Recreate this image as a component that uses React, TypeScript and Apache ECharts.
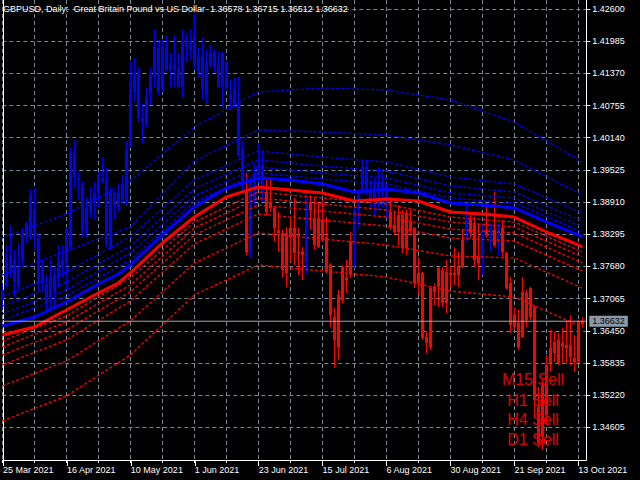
import React, { useEffect, useRef } from "react";
import * as echarts from "echarts";

const FONT = '"Liberation Sans", Arial, sans-serif';
const GRID_COLOR = "#778899";

const titleText =
  "GBPUSD, Daily:  Great Britain Pound vs US Dollar  1.36578 1.36715 1.36512 1.36632";
const bidPrice = 1.36632;

const yTicks = [
  1.34605, 1.3522, 1.35835, 1.3645, 1.37065, 1.3768, 1.38295, 1.3891, 1.39525,
  1.4014, 1.40755, 1.4137, 1.41985, 1.426,
];
const Y_MIN = 1.3398;
const Y_MAX = 1.42772;

const opens = [
  1.37038, 1.37325, 1.37898, 1.37382, 1.37669, 1.37803, 1.38242, 1.38223, 1.38758, 1.38223,
  1.37363, 1.37325, 1.37038, 1.37516, 1.37459, 1.37803, 1.37765, 1.38051, 1.39848, 1.3937,
  1.39236, 1.38319, 1.3872, 1.38892, 1.39083, 1.3937, 1.39332, 1.38051, 1.39083, 1.38816,
  1.39236, 1.38892, 1.40001, 1.41014, 1.41396, 1.40517, 1.40421, 1.40994, 1.413, 1.41855,
  1.4109, 1.41874, 1.41434, 1.4153, 1.41472, 1.41109, 1.42007, 1.41816, 1.42103, 1.41377,
  1.41683, 1.40956, 1.4153, 1.41778, 1.4153, 1.41109, 1.41587, 1.40956, 1.41052, 1.40803,
  1.39924, 1.39102, 1.37956, 1.38949, 1.39427, 1.39618, 1.39102, 1.38797, 1.38797, 1.38376,
  1.38319, 1.37554, 1.38242, 1.38414, 1.37937, 1.37956, 1.37765, 1.38892, 1.38605, 1.38051,
  1.38567, 1.38242, 1.37707, 1.36713, 1.3614, 1.37038, 1.3742, 1.37516, 1.38147, 1.38758,
  1.39141, 1.3958, 1.39141, 1.38816, 1.39293, 1.39045, 1.39274, 1.3872, 1.38472, 1.38338,
  1.38663, 1.38032, 1.38529, 1.38414, 1.37363, 1.37554, 1.36331, 1.3614, 1.37287, 1.37287,
  1.37612, 1.36981, 1.37554, 1.37516, 1.37516, 1.37669, 1.38338, 1.38567, 1.38472, 1.37745,
  1.3786, 1.38376, 1.38223, 1.38376, 1.38051, 1.38414, 1.37937, 1.37363, 1.36522, 1.36599,
  1.36331, 1.37172, 1.36713, 1.36904, 1.34993, 1.3442, 1.3484, 1.35834, 1.36025, 1.36274,
  1.3614, 1.36178, 1.36178, 1.3593, 1.35853, 1.36578,
];
const closes = [
  1.37229, 1.37898, 1.37554, 1.37803, 1.37325, 1.38338, 1.3851, 1.39045, 1.38223, 1.37363,
  1.37707, 1.36981, 1.37459, 1.37191, 1.37765, 1.37669, 1.38414, 1.39848, 1.39389, 1.39332,
  1.38376, 1.38797, 1.38988, 1.39083, 1.39427, 1.39293, 1.3809, 1.39083, 1.38854, 1.39083,
  1.38949, 1.39905, 1.41205, 1.41396, 1.40517, 1.4044, 1.40918, 1.41377, 1.41874, 1.41014,
  1.41874, 1.41434, 1.41568, 1.41434, 1.41109, 1.41969, 1.41874, 1.41969, 1.4153, 1.41683,
  1.41052, 1.41568, 1.41759, 1.41491, 1.41109, 1.41759, 1.4109, 1.40861, 1.40803, 1.3981,
  1.39332, 1.37956, 1.39332, 1.39465, 1.39618, 1.39102, 1.3872, 1.38911, 1.38414, 1.38319,
  1.37612, 1.38319, 1.38414, 1.37937, 1.37956, 1.37898, 1.39007, 1.38758, 1.3809, 1.38605,
  1.38185, 1.37574, 1.36752, 1.36274, 1.37134, 1.37669, 1.37459, 1.38147, 1.38758, 1.39045,
  1.3958, 1.39102, 1.38911, 1.39236, 1.39083, 1.39293, 1.38892, 1.38433, 1.38338, 1.38663,
  1.38032, 1.38701, 1.38376, 1.37363, 1.37554, 1.36312, 1.36216, 1.37267, 1.37191, 1.3765,
  1.36981, 1.37574, 1.37516, 1.37554, 1.37669, 1.38185, 1.38567, 1.38319, 1.37803, 1.3786,
  1.38376, 1.38281, 1.38414, 1.3809, 1.38414, 1.37956, 1.37267, 1.3656, 1.36752, 1.3614,
  1.37191, 1.36656, 1.37267, 1.35127, 1.34306, 1.35452, 1.35796, 1.36121, 1.36236, 1.35834,
  1.36216, 1.36121, 1.35949, 1.35853, 1.36618, 1.36632,
];
const lows = [
  1.36847, 1.37267, 1.37478, 1.37095, 1.37229, 1.37669, 1.38128, 1.38185, 1.37994, 1.37191,
  1.37191, 1.3679, 1.36847, 1.36847, 1.37287, 1.37478, 1.37229, 1.37994, 1.39198, 1.38949,
  1.38242, 1.38242, 1.38605, 1.38567, 1.38816, 1.39274, 1.38032, 1.37994, 1.38567, 1.3872,
  1.38892, 1.38854, 1.39943, 1.40822, 1.4044, 1.40039, 1.40345, 1.40765, 1.41109, 1.40956,
  1.41014, 1.41396, 1.41109, 1.41109, 1.4109, 1.40918, 1.41587, 1.41625, 1.41434, 1.413,
  1.40861, 1.40803, 1.41491, 1.41377, 1.4109, 1.40708, 1.41052, 1.4067, 1.40727, 1.39771,
  1.39102, 1.37898, 1.37841, 1.38854, 1.39274, 1.38911, 1.38663, 1.3872, 1.38147, 1.37956,
  1.37459, 1.37287, 1.37765, 1.37707, 1.37516, 1.3742, 1.37554, 1.38376, 1.37994, 1.38032,
  1.38147, 1.37554, 1.36522, 1.35739, 1.35891, 1.36981, 1.37172, 1.37459, 1.3765, 1.38414,
  1.39083, 1.39045, 1.38758, 1.38663, 1.38758, 1.38816, 1.38605, 1.38376, 1.38281, 1.3809,
  1.37937, 1.37898, 1.38281, 1.37267, 1.37134, 1.36274, 1.36025, 1.36083, 1.36943, 1.36904,
  1.36904, 1.3679, 1.37287, 1.37325, 1.37287, 1.3765, 1.38147, 1.38223, 1.37669, 1.3742,
  1.37516, 1.38242, 1.37956, 1.38051, 1.37898, 1.3786, 1.37229, 1.36407, 1.36465, 1.36083,
  1.36312, 1.36522, 1.36656, 1.34879, 1.34229, 1.34172, 1.34649, 1.35662, 1.35853, 1.35796,
  1.35834, 1.35834, 1.35796, 1.35662, 1.35834, 1.36512,
];
const highs = [
  1.37363, 1.3809, 1.38472, 1.37994, 1.38128, 1.38414, 1.38529, 1.39141, 1.39179, 1.38319,
  1.37803, 1.37516, 1.37803, 1.37669, 1.3809, 1.3809, 1.38433, 1.39943, 1.40096, 1.39485,
  1.39293, 1.39007, 1.39198, 1.39293, 1.39485, 1.39771, 1.39561, 1.39198, 1.39102, 1.39274,
  1.39427, 1.40058, 1.41587, 1.41663, 1.41491, 1.40803, 1.41109, 1.41472, 1.42199, 1.42007,
  1.42007, 1.42103, 1.41759, 1.42103, 1.41759, 1.42199, 1.42141, 1.42199, 1.42524, 1.41855,
  1.42046, 1.41816, 1.41912, 1.41816, 1.41778, 1.41778, 1.41587, 1.41243, 1.41281, 1.413,
  1.40058, 1.39465, 1.39389, 1.39657, 1.40039, 1.39867, 1.39332, 1.39389, 1.38816, 1.3872,
  1.38376, 1.38433, 1.38624, 1.38988, 1.38414, 1.38051, 1.39045, 1.39045, 1.38988, 1.38911,
  1.38949, 1.38624, 1.37745, 1.36885, 1.37229, 1.37707, 1.37803, 1.38338, 1.38797, 1.39102,
  1.39714, 1.39714, 1.39332, 1.3937, 1.3958, 1.39465, 1.39274, 1.39007, 1.3872, 1.38854,
  1.38758, 1.38758, 1.38758, 1.38433, 1.3786, 1.37574, 1.36426, 1.37287, 1.37363, 1.37669,
  1.37669, 1.37803, 1.37707, 1.38051, 1.37956, 1.38376, 1.38892, 1.38701, 1.38624, 1.3851,
  1.3851, 1.38892, 1.3851, 1.39102, 1.3851, 1.38567, 1.37956, 1.37478, 1.36885, 1.36847,
  1.37478, 1.37229, 1.37287, 1.36943, 1.35375, 1.35509, 1.35987, 1.36465, 1.36426, 1.36407,
  1.36503, 1.36656, 1.36752, 1.36369, 1.36656, 1.36715,
];

// indicator colour of each bar, as runs: [colour, count]
const signalRuns: [string, number][] = [
  ["B", 61], ["R", 1], ["B", 4], ["R", 10], ["B", 1], ["R", 11], ["B", 9], ["R", 19],
  ["B", 1], ["R", 3], ["B", 1], ["R", 1], ["B", 1], ["R", 1], ["B", 1], ["R", 21],
];

// thick moving averages
const maKeys = [0, 8, 16, 24, 29, 32, 40, 48, 56, 64, 72, 80, 88, 96, 104, 112, 120, 128, 136, 144, 145];
const maBlue = [
  1.36541, 1.36713, 1.37, 1.37344, 1.37535, 1.37707, 1.38281, 1.38816, 1.39179, 1.3937, 1.39332,
  1.39255, 1.39102, 1.3916, 1.39083, 1.38892, 1.38854, 1.38797, 1.38529, 1.38281, 1.38242,
];
const maRed = [
  1.36369, 1.36522, 1.36847, 1.37172, 1.37363, 1.37554, 1.38128, 1.38624, 1.39007, 1.39198, 1.39141,
  1.39083, 1.3893, 1.38969, 1.3893, 1.3872, 1.38682, 1.38624, 1.38338, 1.3809, 1.38051,
];

// dashed bands
const bandKeys = [0, 16, 32, 48, 64, 80, 96, 112, 128, 145];
const blueBand1 = [1.36656, 1.37114, 1.37803, 1.38911, 1.39466, 1.39351, 1.39256, 1.38988, 1.38892, 1.38338];
const blueBand2 = [1.36771, 1.37229, 1.37937, 1.39026, 1.3958, 1.39466, 1.3937, 1.39084, 1.38988, 1.38433];
const blueBand3 = [1.36923, 1.37382, 1.3807, 1.3916, 1.39714, 1.39599, 1.39504, 1.39217, 1.39103, 1.38548];
const blueBand4 = [1.37114, 1.37574, 1.38242, 1.39332, 1.39886, 1.39771, 1.39676, 1.39389, 1.39256, 1.38701];
const blueBand5 = [1.37516, 1.37975, 1.38433, 1.39695, 1.40287, 1.40249, 1.40192, 1.40001, 1.39714, 1.39045];
const blueBand6 = [1.38223, 1.38682, 1.39313, 1.40345, 1.41014, 1.4109, 1.41052, 1.40861, 1.4044, 1.39676];
const redBand1 = [1.36255, 1.36733, 1.37459, 1.38529, 1.39103, 1.38988, 1.38873, 1.38624, 1.38529, 1.37956];
const redBand2 = [1.3614, 1.36618, 1.37325, 1.38414, 1.38988, 1.38873, 1.38758, 1.38529, 1.38433, 1.3786];
const redBand3 = [1.35987, 1.36465, 1.37191, 1.38281, 1.38854, 1.38739, 1.38624, 1.38395, 1.38319, 1.37745];
const redBand4 = [1.35796, 1.36274, 1.37019, 1.38109, 1.38682, 1.38567, 1.38452, 1.38223, 1.38166, 1.37593];
const redBand5 = [1.35394, 1.35872, 1.36637, 1.37745, 1.38319, 1.38204, 1.3809, 1.3788, 1.37841, 1.37267];
const redBand6 = [1.34726, 1.35203, 1.35987, 1.37134, 1.37707, 1.37593, 1.37478, 1.3721, 1.37095, 1.36522];

const signals = ["M15 Sell", "H1 Sell", "H4 Sell", "D1 Sell"];

const MONTHS = ["Jan", "Feb", "Mar", "Apr", "May", "Jun", "Jul", "Aug", "Sep", "Oct", "Nov", "Dec"];
const FUTURE_BARS = 1;

function buildCategories(count: number): string[] {
  const out: string[] = [];
  let t = Date.UTC(2021, 2, 25);
  while (out.length < count) {
    const d = new Date(t);
    const wd = d.getUTCDay();
    if (wd !== 0 && wd !== 6) {
      out.push(`${d.getUTCDate()} ${MONTHS[d.getUTCMonth()]} ${d.getUTCFullYear()}`);
    }
    t += 86400000;
  }
  return out;
}

const BLUE = "#0000ff";
const RED = "#ff0000";

export default function App() {
  const ref = useRef<HTMLDivElement>(null);
  useEffect(() => {
    if (!ref.current) return;
    const chart = echarts.init(ref.current, undefined, { renderer: "svg" });
    const categories = buildCategories(opens.length + FUTURE_BARS);
    const lastIndex = categories.length - 1;
    const colors: string[] = [];
    signalRuns.forEach(([c, n]) => {
      for (let i = 0; i < n; i++) colors.push(c === "B" ? BLUE : RED);
    });
    const candleData = opens.map((o, i) => {
      const c = colors[i];
      return {
        value: [o, closes[i], lows[i], highs[i]],
        itemStyle: { color: c, color0: c, borderColor: c, borderColor0: c, borderColorDoji: c },
      };
    });
    const pairs = (keys: number[], vals: number[]) => keys.map((k, i) => [k, vals[i]]);
    const lineSeries = (data: number[][], color: string, width: number, dashed: boolean) => ({
      type: "line",
      xAxisIndex: 0,
      yAxisIndex: 0,
      data,
      showSymbol: false,
      symbol: "none",
      silent: true,
      lineStyle: { color, width, type: dashed ? [3, 2] : "solid" },
      z: 3,
    });
    const tickEvery = (n: number) => (i: number) => i % n === 0;

    const bidSeries = {
      type: "line",
      xAxisIndex: 0,
      yAxisIndex: 0,
      data: [
        [0, bidPrice],
        [lastIndex, bidPrice],
      ],
      showSymbol: false,
      symbol: "none",
      silent: true,
      z: 4,
      lineStyle: { color: "#a0a8b0", type: "solid", width: 1 },
      endLabel: {
        show: true,
        distance: 3,
        formatter: () => bidPrice.toFixed(5),
        color: "#000",
        backgroundColor: "#8a9aaa",
        padding: [1, 3, 1, 3],
        fontSize: 9,
        fontFamily: FONT,
      },
    };

    const option: any = {
      animation: false,
      backgroundColor: "#000",
      title: {
        text: titleText,
        left: 3,
        top: 4,
        padding: 0,
        textStyle: { color: "#fff", fontSize: 9, fontWeight: "normal", fontFamily: FONT },
      },
      grid: [
        { left: 2.3, top: 0, width: 584, height: 460 },
        { left: 2.3, top: 0, width: 584, height: 460 },
      ],
      xAxis: [
        {
          type: "category",
          gridIndex: 0,
          data: categories,
          boundaryGap: false,
          axisLine: { show: true, lineStyle: { color: "#fff", width: 1 } },
          axisTick: { show: true, interval: tickEvery(8), length: 3, lineStyle: { color: "#fff" } },
          axisLabel: { show: false },
          splitLine: {
            show: true,
            interval: tickEvery(8),
            lineStyle: { color: GRID_COLOR, type: [4, 3], width: 1 },
          },
        },
        {
          type: "category",
          gridIndex: 1,
          data: categories,
          boundaryGap: false,
          axisLine: { show: false },
          axisTick: { show: true, interval: tickEvery(16), length: 6, lineStyle: { color: "#fff" } },
          axisLabel: {
            show: true,
            interval: tickEvery(16),
            color: "#fff",
            fontSize: 9,
            fontFamily: FONT,
            align: "left",
            margin: 5,
          },
          splitLine: { show: false },
        },
      ],
      yAxis: [
        {
          type: "value",
          gridIndex: 0,
          position: "right",
          min: Y_MIN,
          max: Y_MAX,
          axisLine: { show: true, lineStyle: { color: "#fff", width: 1 } },
          axisTick: { show: true, customValues: yTicks, length: 4, lineStyle: { color: "#fff" } },
          axisLabel: {
            show: true,
            customValues: yTicks,
            formatter: (v: number) => v.toFixed(5),
            color: "#fff",
            fontSize: 9,
            fontFamily: FONT,
            margin: 6,
          },
          splitLine: { show: true, lineStyle: { color: GRID_COLOR, type: [4, 3], width: 1 } },
        },
        {
          type: "value",
          gridIndex: 1,
          position: "left",
          min: 0,
          max: 1,
          axisLine: { show: true, lineStyle: { color: "#fff", width: 1 } },
          axisTick: { show: false },
          axisLabel: { show: false },
          splitLine: { show: false },
        },
      ],
      series: [
        {
          type: "candlestick",
          xAxisIndex: 0,
          yAxisIndex: 0,
          data: candleData,
          barWidth: 2,
          clip: false,
          itemStyle: { borderWidth: 1 },
          z: 2,
        },
        lineSeries(pairs(bandKeys, blueBand1), BLUE, 1.3, true),
        lineSeries(pairs(bandKeys, blueBand2), BLUE, 1.3, true),
        lineSeries(pairs(bandKeys, blueBand3), BLUE, 1.3, true),
        lineSeries(pairs(bandKeys, blueBand4), BLUE, 1.3, true),
        lineSeries(pairs(bandKeys, blueBand5), BLUE, 1.3, true),
        lineSeries(pairs(bandKeys, blueBand6), BLUE, 1.3, true),
        lineSeries(pairs(bandKeys, redBand1), RED, 1.3, true),
        lineSeries(pairs(bandKeys, redBand2), RED, 1.3, true),
        lineSeries(pairs(bandKeys, redBand3), RED, 1.3, true),
        lineSeries(pairs(bandKeys, redBand4), RED, 1.3, true),
        lineSeries(pairs(bandKeys, redBand5), RED, 1.3, true),
        lineSeries(pairs(bandKeys, redBand6), RED, 1.3, true),
        lineSeries(pairs(maKeys, maBlue), BLUE, 3, false),
        lineSeries(pairs(maKeys, maRed), RED, 3, false),
        bidSeries,
      ],
      graphic: signals.map((s, i) => ({
        type: "text",
        x: 533,
        y: [379, 400, 419, 439][i],
        z: 100,
        silent: true,
        style: {
          text: s,
          fill: "#e00000",
          font: `16px ${FONT}`,
          align: "center",
          verticalAlign: "middle",
          textAlign: "center",
          textVerticalAlign: "middle",
        },
      })),
    };
    chart.setOption(option);
    return () => chart.dispose();
  }, []);
  return (
    <div
      ref={ref}
      style={{ position: "absolute", left: 0, top: 0, width: 640, height: 480 }}
    />
  );
}
